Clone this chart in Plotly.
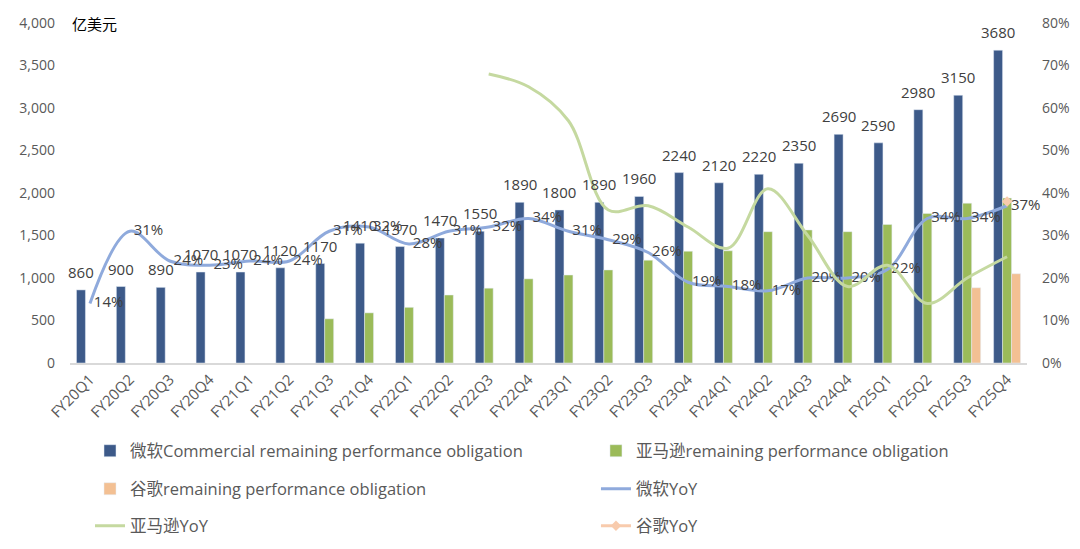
import plotly.graph_objects as go

categories = ["FY20Q1", "FY20Q2", "FY20Q3", "FY20Q4", "FY21Q1", "FY21Q2", "FY21Q3", "FY21Q4",
              "FY22Q1", "FY22Q2", "FY22Q3", "FY22Q4", "FY23Q1", "FY23Q2", "FY23Q3", "FY23Q4",
              "FY24Q1", "FY24Q2", "FY24Q3", "FY24Q4", "FY25Q1", "FY25Q2", "FY25Q3", "FY25Q4"]

ms_rpo = [860, 900, 890, 1070, 1070, 1120, 1170, 1410, 1370, 1470, 1550, 1890,
          1800, 1890, 1960, 2240, 2120, 2220, 2350, 2690, 2590, 2980, 3150, 3680]
amzn_rpo = [None] * 6 + [520, 590, 655, 800, 880, 990, 1035, 1095, 1210, 1315,
                         1320, 1545, 1565, 1545, 1630, 1760, 1880, 1940]
goog_rpo = [None] * 22 + [885, 1050]

ms_yoy = [0.14, 0.31, 0.24, 0.23, 0.24, 0.24, 0.31, 0.32, 0.28, 0.31, 0.32, 0.34,
          0.31, 0.29, 0.26, 0.19, 0.18, 0.17, 0.20, 0.20, 0.22, 0.34, 0.34, 0.37]
amzn_yoy = [None] * 10 + [0.68, 0.65, 0.57, 0.36, 0.37, 0.32, 0.27, 0.41, 0.30, 0.18,
                          0.23, 0.14, 0.20, 0.25]
goog_yoy = [None] * 23 + [0.38]

C_MS = "#3D5A89"
C_AMZN = "#9BBB59"
C_GOOG = "#F3C093"
C_MS_L = "#8FAADC"
C_AMZN_L = "#C5D9A0"
C_GOOG_L = "#F8CBAD"

FONT = "Open Sans, Noto Sans CJK SC, sans-serif"
LABEL = "#404040"
AXIS = "#595959"

fig = go.Figure()

fig.add_trace(go.Bar(
    x=categories, y=ms_rpo, name="微软Commercial remaining performance obligation",
    marker=dict(color=C_MS), legend="legend"))
fig.add_trace(go.Bar(
    x=categories, y=amzn_rpo, name="亚马逊remaining performance obligation",
    marker=dict(color=C_AMZN), legend="legend2"))
fig.add_trace(go.Bar(
    x=categories, y=goog_rpo, name="谷歌remaining performance obligation",
    marker=dict(color=C_GOOG), legend="legend3"))

fig.add_trace(go.Scatter(
    x=categories, y=ms_yoy, name="微软YoY", yaxis="y2", mode="lines+text",
    line=dict(color=C_MS_L, width=3, shape="spline", smoothing=1),
    text=[f" {round(v * 100):d}%" for v in ms_yoy], textposition="middle right",
    textfont=dict(size=15, color=LABEL, family=FONT), cliponaxis=False, legend="legend4"))
fig.add_trace(go.Scatter(
    x=categories, y=amzn_yoy, name="亚马逊YoY", yaxis="y2", mode="lines",
    line=dict(color=C_AMZN_L, width=3, shape="spline", smoothing=1), legend="legend5"))
fig.add_trace(go.Scatter(
    x=categories, y=goog_yoy, name="谷歌YoY", yaxis="y2", mode="lines+markers",
    line=dict(color=C_GOOG_L, width=3), marker=dict(symbol="diamond", size=8, color=C_GOOG_L),
    legend="legend6"))

# value labels above the Microsoft bars (left slot of each group)
annotations = [dict(text=str(v), x=c, y=v, xref="x", yref="y", xshift=-9, yshift=6,
                    yanchor="bottom", showarrow=False,
                    font=dict(size=15, color=LABEL, family=FONT))
               for c, v in zip(categories, ms_rpo)]
annotations.append(dict(text="亿美元", xref="paper", yref="y", x=0, y=4000, xanchor="left",
                        yanchor="middle", showarrow=False,
                        font=dict(size=15, color="#000000", family="Noto Sans CJK SC")))

leg_common = dict(orientation="h", xanchor="left", yanchor="middle",
                  font=dict(size=16.5, color=AXIS, family=FONT),
                  bgcolor="rgba(0,0,0,0)")
col_x = [0.0209, 0.5496]
row_y = [-0.2588, -0.3706, -0.4794]

layout_legends = {}
for i in range(6):
    key = "legend" if i == 0 else f"legend{i + 1}"
    layout_legends[key] = dict(x=col_x[i % 2], y=row_y[i // 2], **leg_common)

fig.update_layout(
    width=1080, height=549,
    margin=dict(l=70, r=53, t=23, b=186, autoexpand=False),
    paper_bgcolor="white", plot_bgcolor="white",
    barmode="group", bargap=0.325, bargroupgap=0,
    font=dict(family=FONT, color=AXIS),
    xaxis=dict(range=[-0.5, len(categories) - 0.5], showline=True, linecolor="#D9D9D9",
               linewidth=2, tickangle=-45, tickfont=dict(size=15, color=AXIS),
               showgrid=False, ticks=""),
    yaxis=dict(range=[0, 4000], dtick=500, tickformat=",d", showgrid=False, zeroline=False,
               tickfont=dict(size=14, color=AXIS), ticklabelstandoff=14),
    yaxis2=dict(range=[0, 0.8], dtick=0.1, tickformat=".0%", overlaying="y", side="right",
                showgrid=False, zeroline=False, tickfont=dict(size=14, color=AXIS),
                ticklabelstandoff=14),
    showlegend=True,
    annotations=annotations,
    **layout_legends,
)

fig.write_html("out.html")
